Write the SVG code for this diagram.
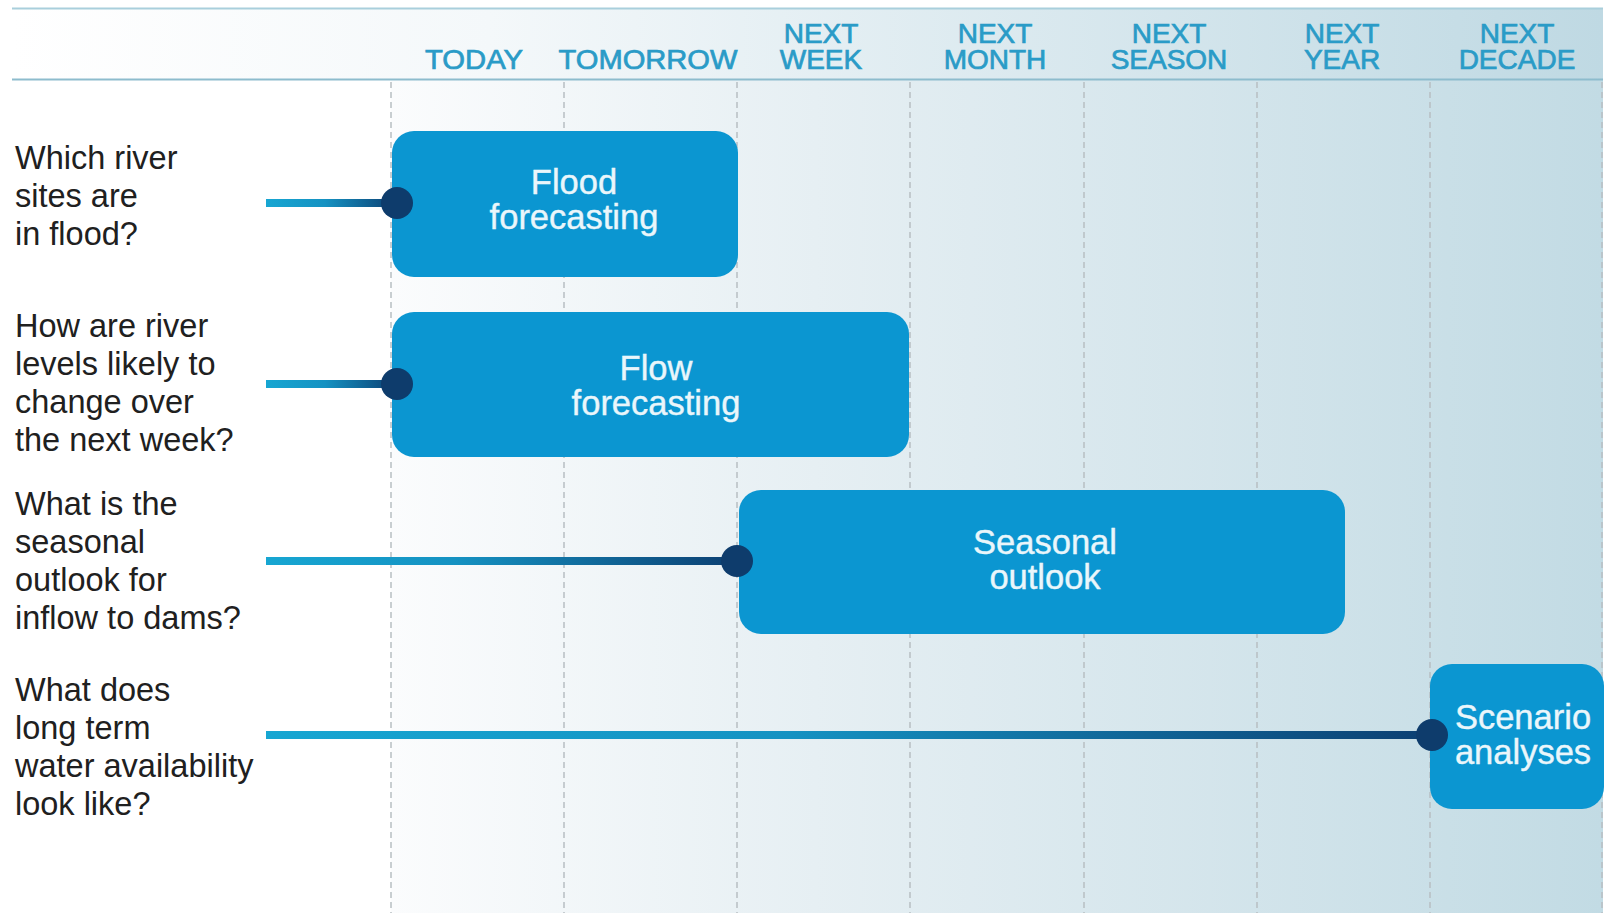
<svg xmlns="http://www.w3.org/2000/svg" width="1606" height="913" viewBox="0 0 1606 913">
<defs>
<linearGradient id="bg" x1="391" y1="0" x2="1603" y2="0" gradientUnits="userSpaceOnUse">
<stop offset="0" stop-color="#fbfcfd"/>
<stop offset="0.35" stop-color="#e6eff3"/>
<stop offset="1" stop-color="#c2dbe4"/>
</linearGradient>
<linearGradient id="hd" x1="12" y1="0" x2="1603" y2="0" gradientUnits="userSpaceOnUse">
<stop offset="0" stop-color="#ffffff"/>
<stop offset="0.3" stop-color="#f4f8fa"/>
<stop offset="1" stop-color="#bfd9e3"/>
</linearGradient>
<linearGradient id="c1" x1="266" y1="0" x2="397" y2="0" gradientUnits="userSpaceOnUse">
<stop offset="0" stop-color="#17a6d2"/><stop offset="0.45" stop-color="#1592c2"/><stop offset="1" stop-color="#0c3f72"/>
</linearGradient>
<linearGradient id="c2" x1="266" y1="0" x2="397" y2="0" gradientUnits="userSpaceOnUse">
<stop offset="0" stop-color="#17a6d2"/><stop offset="0.45" stop-color="#1592c2"/><stop offset="1" stop-color="#0c3f72"/>
</linearGradient>
<linearGradient id="c3" x1="266" y1="0" x2="737" y2="0" gradientUnits="userSpaceOnUse">
<stop offset="0" stop-color="#17a6d2"/><stop offset="0.4" stop-color="#1592c2"/><stop offset="1" stop-color="#0c3f72"/>
</linearGradient>
<linearGradient id="c4" x1="266" y1="0" x2="1432" y2="0" gradientUnits="userSpaceOnUse">
<stop offset="0" stop-color="#17a6d2"/><stop offset="0.45" stop-color="#1592c2"/><stop offset="1" stop-color="#0c3f72"/>
</linearGradient>
</defs>
<style>
.hdr{font-family:"Liberation Sans",Arial,sans-serif;font-size:28px;fill:#2a9bc7;stroke:#2a9bc7;stroke-width:0.7px;text-anchor:middle;}
.q{font-family:"Liberation Sans",Arial,sans-serif;font-size:32.5px;fill:#202020;}
.bt{font-family:"Liberation Sans",Arial,sans-serif;font-size:34.5px;fill:#eaf6fb;stroke:#eaf6fb;stroke-width:0.4px;text-anchor:middle;}
.box{fill:#0b96d1;}
.dash{stroke:#b8bec2;stroke-width:1.5;stroke-dasharray:6 4;}
.dot{fill:#0e3c6c;}
.conn{stroke-width:8;fill:none;}
</style>
<rect width="1606" height="913" fill="#ffffff"/>
<rect x="391" y="80" width="1212" height="833" fill="url(#bg)"/>
<rect x="12" y="8" width="1591" height="72" fill="url(#hd)"/>
<line x1="12" y1="8.5" x2="1603" y2="8.5" stroke="#a9cfdc" stroke-width="2"/>
<line x1="12" y1="79.5" x2="1603" y2="79.5" stroke="#8dbccd" stroke-width="2"/>
<g id="grid">
<line class="dash" x1="391" y1="82" x2="391" y2="913"/>
<line class="dash" x1="564" y1="82" x2="564" y2="913"/>
<line class="dash" x1="737" y1="82" x2="737" y2="913"/>
<line class="dash" x1="910" y1="82" x2="910" y2="913"/>
<line class="dash" x1="1084" y1="82" x2="1084" y2="913"/>
<line class="dash" x1="1257" y1="82" x2="1257" y2="913"/>
<line class="dash" x1="1430" y1="82" x2="1430" y2="913"/>
<line class="dash" x1="1602" y1="82" x2="1602" y2="913"/>
</g>
<g id="headers">
<text class="hdr" x="474" y="69" textLength="98" lengthAdjust="spacingAndGlyphs">TODAY</text>
<text class="hdr" x="648" y="69" textLength="179" lengthAdjust="spacingAndGlyphs">TOMORROW</text>
<text class="hdr"><tspan x="821" y="43">NEXT</tspan><tspan x="821" y="69">WEEK</tspan></text>
<text class="hdr"><tspan x="995" y="43">NEXT</tspan><tspan x="995" y="69">MONTH</tspan></text>
<text class="hdr"><tspan x="1169" y="43">NEXT</tspan><tspan x="1169" y="69">SEASON</tspan></text>
<text class="hdr"><tspan x="1342" y="43">NEXT</tspan><tspan x="1342" y="69">YEAR</tspan></text>
<text class="hdr"><tspan x="1517" y="43">NEXT</tspan><tspan x="1517" y="69">DECADE</tspan></text>
</g>
<g id="questions">
<text class="q"><tspan x="15" y="169">Which river</tspan><tspan x="15" y="207">sites are</tspan><tspan x="15" y="245">in flood?</tspan></text>
<text class="q"><tspan x="15" y="337">How are river</tspan><tspan x="15" y="375">levels likely to</tspan><tspan x="15" y="413">change over</tspan><tspan x="15" y="451">the next week?</tspan></text>
<text class="q"><tspan x="15" y="515">What is the</tspan><tspan x="15" y="553">seasonal</tspan><tspan x="15" y="591">outlook for</tspan><tspan x="15" y="629">inflow to dams?</tspan></text>
<text class="q"><tspan x="15" y="701">What does</tspan><tspan x="15" y="739">long term</tspan><tspan x="15" y="777">water availability</tspan><tspan x="15" y="815">look like?</tspan></text>
</g>
<g id="node-flood">
<rect class="box" x="392" y="131" width="346" height="146" rx="22"/>
<text class="bt"><tspan x="574" y="194">Flood</tspan><tspan x="574" y="229">forecasting</tspan></text>
</g>
<g id="node-flow">
<rect class="box" x="392" y="312" width="517" height="145" rx="22"/>
<text class="bt"><tspan x="656" y="380">Flow</tspan><tspan x="656" y="415">forecasting</tspan></text>
</g>
<g id="node-seasonal">
<rect class="box" x="739" y="490" width="606" height="144" rx="22"/>
<text class="bt"><tspan x="1045" y="554">Seasonal</tspan><tspan x="1045" y="589">outlook</tspan></text>
</g>
<g id="node-scenario">
<rect class="box" x="1430" y="664" width="174" height="145" rx="22"/>
<text class="bt"><tspan x="1523" y="729">Scenario</tspan><tspan x="1523" y="764">analyses</tspan></text>
</g>
<g id="connectors">
<line class="conn" x1="266" y1="203" x2="397" y2="203" stroke="url(#c1)"/>
<circle class="dot" cx="397" cy="203" r="16"/>
<line class="conn" x1="266" y1="384" x2="397" y2="384" stroke="url(#c2)"/>
<circle class="dot" cx="397" cy="384" r="16"/>
<line class="conn" x1="266" y1="561" x2="737" y2="561" stroke="url(#c3)"/>
<circle class="dot" cx="737" cy="561" r="16"/>
<line class="conn" x1="266" y1="735" x2="1432" y2="735" stroke="url(#c4)"/>
<circle class="dot" cx="1432" cy="735" r="16"/>
</g>
</svg>
